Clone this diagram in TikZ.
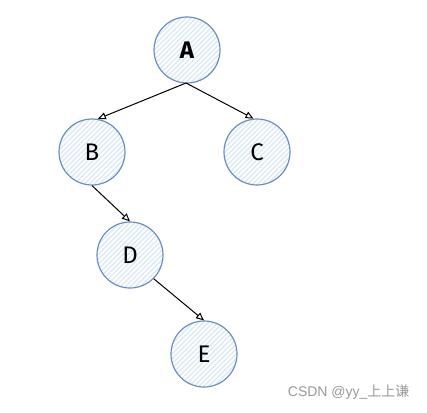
\documentclass[tikz,border=0pt]{standalone}
\usepackage{fontspec}
\setmainfont{Fira Sans}
\newfontfamily\cjk{Noto Sans CJK SC}
\newfontfamily\wmfont{Liberation Sans}
\usetikzlibrary{arrows.meta,patterns,patterns.meta}
\definecolor{nodeline}{HTML}{6C8EBF}
\definecolor{nodehatch}{HTML}{DCE8F8}
\begin{document}
\begin{tikzpicture}[x=1pt,y=-1pt,
  tnode/.style={circle,draw=nodeline,line width=1.2pt,minimum size=66pt,inner sep=0pt,
    pattern={Lines[angle=45,distance=3.5pt,line width=1.4pt]},pattern color=nodehatch,
    font=\fontsize{24}{24}\selectfont},
  edge/.style={draw=black,line width=1pt,-{Triangle[open,length=8pt,width=7pt]}}]
\useasboundingbox (0,0) rectangle (427,412);
\node[tnode] (A) at (187,50) {\textbf{A}};
\node[tnode] (B) at (92,152) {B};
\node[tnode] (C) at (257,152) {C};
\node[tnode] (D) at (130,255) {D};
\node[tnode] (E) at (204,354) {E};
\coordinate (a1) at (186,83);
\draw[edge] (a1) -- (B.80);
\draw[edge] (a1) -- (C.96);
\draw[edge] (B.south) -- (D.north);
\draw[edge] (D.-45) -- (E.north);
\node[anchor=east,text=gray!80,font=\fontsize{14}{14}\selectfont] (w) at (413,392) {\wmfont CSDN @yy\_{\cjk 上上谦}};
\end{tikzpicture}
\end{document}
